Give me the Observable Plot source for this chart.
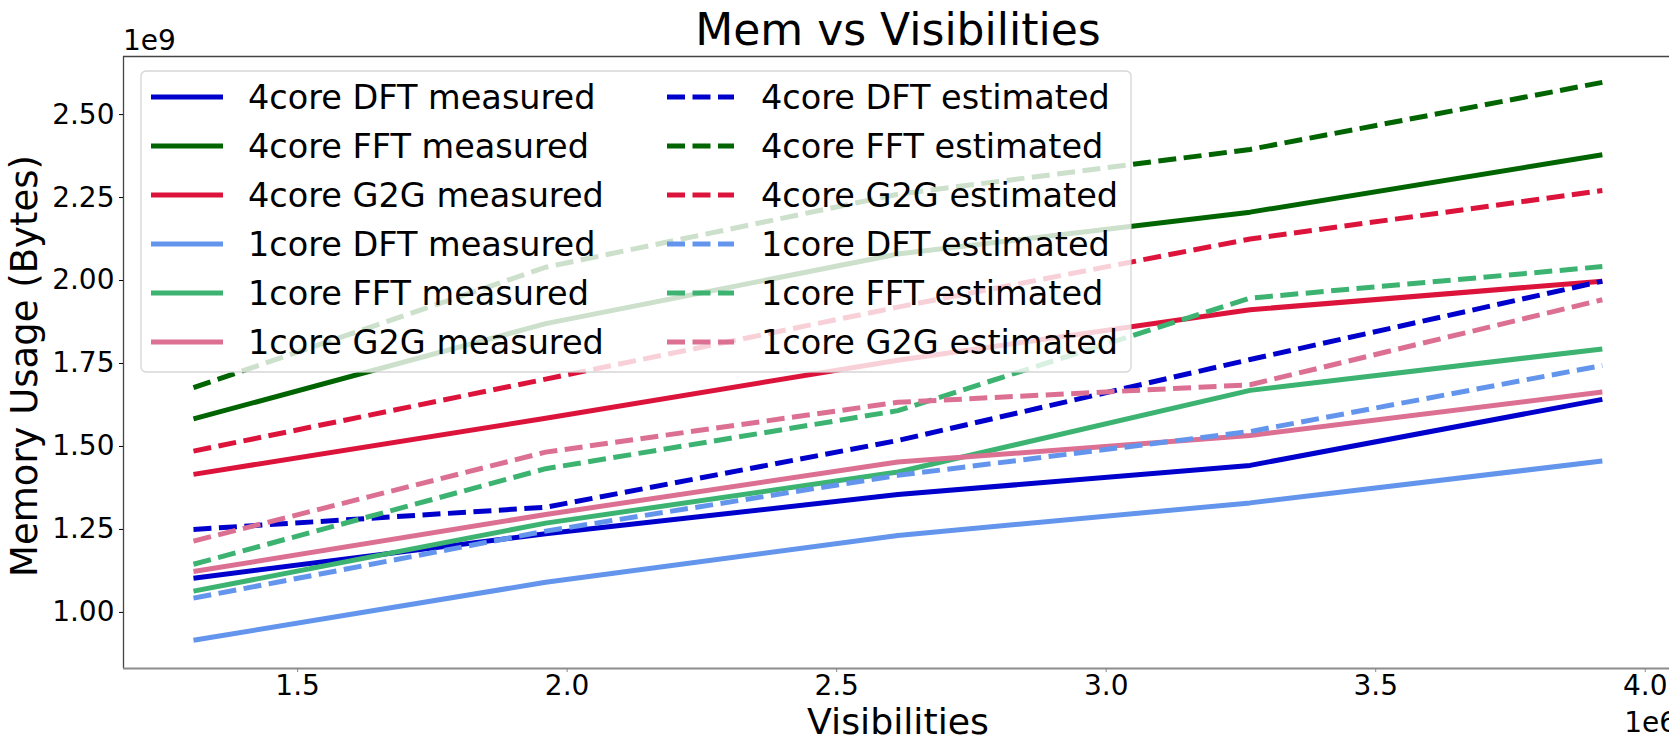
<!DOCTYPE html>
<html><head><meta charset="utf-8">
<script src="https://cdn.jsdelivr.net/npm/d3@7"></script>
<script src="https://cdn.jsdelivr.net/npm/@observablehq/plot@0.6"></script>
<style>
html,body{margin:0;padding:0;background:#fff;}
#chart{width:1669px;height:748px;position:relative;overflow:hidden;}
</style></head><body><div id="chart"></div>
<script>
// X values (visibilities)
const visibilities = [1306800, 1960200, 2613600, 3267000, 3920400];

// Memory usage (bytes), measured
const dft4Measured = [1.103e9, 1.237e9, 1.355e9, 1.443e9, 1.642e9];
const fft4Measured = [1.583e9, 1.870e9, 2.080e9, 2.206e9, 2.379e9];
const g2g4Measured = [1.416e9, 1.585e9, 1.760e9, 1.912e9, 1.998e9];
const dft1Measured = [0.916e9, 1.091e9, 1.232e9, 1.330e9, 1.456e9];
const fft1Measured = [1.064e9, 1.269e9, 1.423e9, 1.669e9, 1.794e9];
const g2g1Measured = [1.123e9, 1.295e9, 1.453e9, 1.533e9, 1.664e9];
// Memory usage (bytes), estimated
const dft4Estimated = [1.250e9, 1.317e9, 1.518e9, 1.762e9, 1.998e9];
const fft4Estimated = [1.677e9, 2.040e9, 2.260e9, 2.395e9, 2.597e9];
const g2g4Estimated = [1.486e9, 1.703e9, 1.920e9, 2.125e9, 2.271e9];
const dft1Estimated = [1.043e9, 1.245e9, 1.413e9, 1.545e9, 1.744e9];
const fft1Estimated = [1.145e9, 1.433e9, 1.608e9, 1.947e9, 2.042e9];
const g2g1Estimated = [1.215e9, 1.483e9, 1.633e9, 1.686e9, 1.942e9];

const seriesNames = [
  "4core DFT measured", "4core FFT measured", "4core G2G measured",
  "1core DFT measured", "1core FFT measured", "1core G2G measured",
  "4core DFT estimated", "4core FFT estimated", "4core G2G estimated",
  "1core DFT estimated", "1core FFT estimated", "1core G2G estimated"
];
const seriesValues = [
  dft4Measured, fft4Measured, g2g4Measured, dft1Measured, fft1Measured, g2g1Measured,
  dft4Estimated, fft4Estimated, g2g4Estimated, dft1Estimated, fft1Estimated, g2g1Estimated
];
const seriesColors = [
  "mediumblue", "darkgreen", "crimson", "cornflowerblue", "mediumseagreen", "palevioletred",
  "mediumblue", "darkgreen", "crimson", "cornflowerblue", "mediumseagreen", "palevioletred"
];
const seriesDashed = [false, false, false, false, false, false, true, true, true, true, true, true];

const yTicks = [1.00e9, 1.25e9, 1.50e9, 1.75e9, 2.00e9, 2.25e9, 2.50e9];
const xTicks = [1.5e6, 2.0e6, 2.5e6, 3.0e6, 3.5e6, 4.0e6];

const titleText = "Mem vs Visibilities";
const xLabel = "Visibilities";
const yLabel = "Memory Usage (Bytes)";
const xOffsetText = "1e6";
const yOffsetText = "1e9";

// Build tidy rows
const rows = [];
seriesNames.forEach((name, i) => {
  seriesValues[i].forEach((v, j) => rows.push({series: name, idx: i, x: visibilities[j], y: v}));
});

const W = 1669, H = 748, ML = 123, MT = 56, MB = 80;
const xDomain = [1.177e6, 4.045e6];
const yDomain = [0.831e9, 2.675e9];
const LW = 5;
const DASH = "18,7.5";
const TICK_FS = 28;

const marks = [];
seriesNames.forEach((name, i) => {
  const opts = {x: "x", y: "y", stroke: seriesColors[i], strokeWidth: LW, strokeLinejoin: "round", strokeLinecap: "butt"};
  if (seriesDashed[i]) opts.strokeDasharray = DASH;
  marks.push(Plot.line(rows.filter(r => r.idx === i), opts));
});

const plot = Plot.plot({
  width: W, height: H,
  marginLeft: ML, marginRight: 0, marginTop: MT, marginBottom: MB,
  x: {domain: xDomain, type: "linear"},
  y: {domain: yDomain, type: "linear"},
  style: {fontFamily: "DejaVu Sans", fontSize: TICK_FS + "px", color: "#000", background: "#fff", overflow: "visible"},
  marks: [
    ...marks,
    Plot.ruleX([xDomain[0]], {stroke: "#444", strokeWidth: 1.3}),
    Plot.ruleY([yDomain[1]], {stroke: "#444", strokeWidth: 1.3}),
    Plot.ruleY([yDomain[0]], {stroke: "#8c8c8c", strokeWidth: 2}),
    Plot.axisY(yTicks, {tickFormat: d => (d / 1e9).toFixed(2), tickSize: 4, tickPadding: 5, label: null, fontSize: TICK_FS}),
    Plot.axisX(xTicks, {tickFormat: d => (d / 1e6).toFixed(1), tickSize: 4, tickPadding: 3, label: null, fontSize: TICK_FS, stroke: "#888"})
  ]
});

document.getElementById("chart").appendChild(plot);

const svg = d3.select(plot);
const ff = "DejaVu Sans";

svg.append("text").attr("x", 898).attr("y", 45).attr("text-anchor", "middle")
  .attr("font-family", ff).attr("font-size", 44).attr("fill", "#000").text(titleText);
svg.append("text").attr("x", 123).attr("y", 50).attr("text-anchor", "start")
  .attr("font-family", ff).attr("font-size", TICK_FS).attr("fill", "#000").text(yOffsetText);
svg.append("text").attr("x", 1677).attr("y", 732).attr("text-anchor", "end")
  .attr("font-family", ff).attr("font-size", TICK_FS).attr("fill", "#000").text(xOffsetText);
svg.append("text").attr("x", 898).attr("y", 734).attr("text-anchor", "middle")
  .attr("font-family", ff).attr("font-size", 36.3).attr("fill", "#000").text(xLabel);
svg.append("text").attr("transform", "translate(37,366) rotate(-90)").attr("text-anchor", "middle")
  .attr("font-family", ff).attr("font-size", 37).attr("fill", "#000").text(yLabel);

// Legend
const lg = svg.append("g");
lg.append("rect").attr("x", 141).attr("y", 71).attr("width", 990).attr("height", 301).attr("rx", 5)
  .attr("fill", "#fff").attr("fill-opacity", 0.8).attr("stroke", "#ccc").attr("stroke-opacity", 0.8).attr("stroke-width", 1.3);
const cols = [{x1: 151, x2: 223, tx: 248}, {x1: 667, x2: 734, tx: 761}];
seriesNames.forEach((name, i) => {
  const c = cols[i < 6 ? 0 : 1];
  const ry = 97 + (i % 6) * 49;
  const ln = lg.append("line").attr("x1", c.x1).attr("x2", c.x2).attr("y1", ry).attr("y2", ry)
    .attr("stroke", seriesColors[i]).attr("stroke-width", LW);
  if (seriesDashed[i]) ln.attr("stroke-dasharray", DASH);
  lg.append("text").attr("x", c.tx).attr("y", ry + 12).attr("text-anchor", "start")
    .attr("font-family", ff).attr("font-size", 33.5).attr("fill", "#000").text(name);
});
</script></body></html>
